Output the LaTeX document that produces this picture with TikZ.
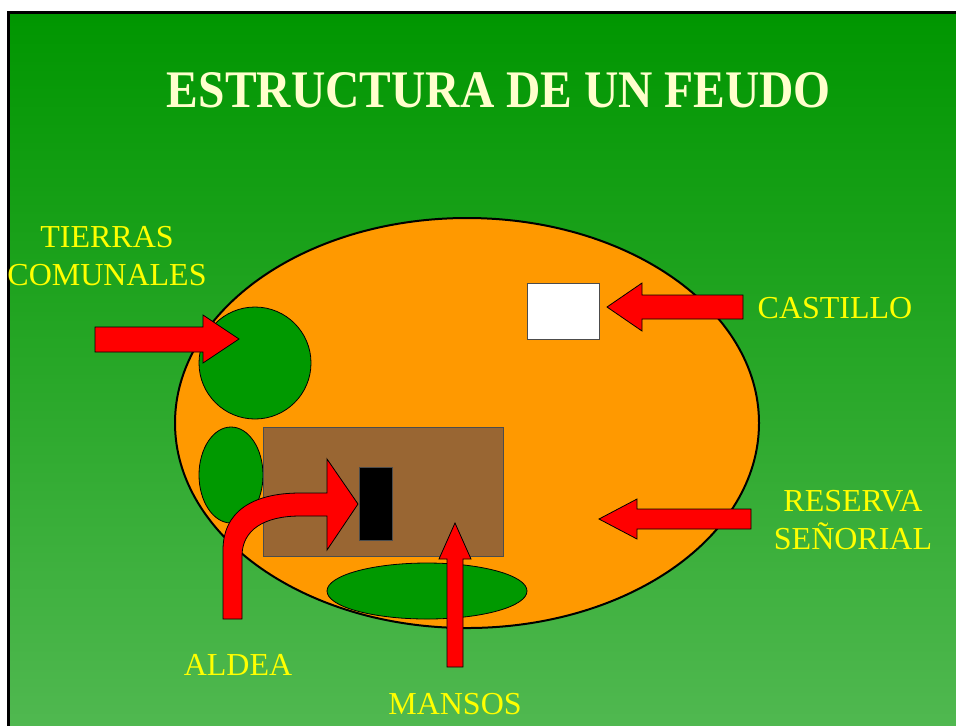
\documentclass[tikz,border=0pt]{standalone}
\usepackage{fontspec}
\setmainfont{Liberation Serif}
\usetikzlibrary{shapes.geometric}
\definecolor{fondoarriba}{RGB}{0,150,0}
\definecolor{fondoabajo}{RGB}{82,185,82}
\definecolor{naranja}{RGB}{255,153,0}
\definecolor{bosque}{RGB}{0,153,0}
\definecolor{marron}{RGB}{153,102,51}
\definecolor{amarillo}{RGB}{255,255,0}
\definecolor{crema}{RGB}{255,255,204}
\tikzset{
    %Define style for the fief and its parts
    feudo/.style={
           ellipse,
           draw=black, line width=1pt,
           fill=naranja,
           inner sep=0pt},
    bosque/.style={
           ellipse,
           draw=black, line width=0.4pt,
           fill=bosque,
           inner sep=0pt},
    parcela/.style={
           rectangle,
           draw=black!70, line width=0.4pt,
           inner sep=0pt},
    %Define style for labels
    etiqueta/.style={
           text=amarillo,
           align=center,
           inner sep=0pt,
           font=\fontsize{16}{19}\selectfont},
    titulo/.style={
           text=crema,
           inner sep=0pt,
           font=\fontsize{26.4}{30}\selectfont\bfseries},
    % Define arrow style
    flecha/.style={
           fill=red,
           draw=black,
           line width=0.4pt,
           line join=miter}
}
\begin{document}
\begin{tikzpicture}[x=0.5pt,y=-0.5pt]
\useasboundingbox (0,0) rectangle (956,725);
\fill[white] (0,0) rectangle (956,725);
\clip (0,0) rectangle (956,725);
\shade[top color=fondoarriba, bottom color=fondoabajo, draw=black, line width=1.5pt]
    (8.5,12.5) rectangle (975,745);

 %nodes
\node[titulo] (titulo) at (499,90) {\scalebox{0.9}[1]{ESTRUCTURA DE UN FEUDO}};
\node[feudo, minimum width=292pt, minimum height=205pt] (feudo) at (467,423) {};
\node[bosque, circle, minimum size=56pt] (comunal) at (255,363) {};
\node[bosque, minimum width=32pt, minimum height=48pt] (ejido) at (231,475) {};
\node[parcela, fill=marron, minimum width=120pt, minimum height=64.5pt] (reserva) at (383,491.5) {};
\node[parcela, fill=black, minimum width=16.5pt, minimum height=36.5pt] (aldea) at (375.5,503.5) {};
\node[bosque, minimum width=100pt, minimum height=28pt] (mansos) at (427,591) {};
\node[parcela, fill=white, minimum width=36pt, minimum height=28pt] (castillo) at (563,311) {};

\node[etiqueta] (ltierras) at (107,256) {TIERRAS\\COMUNALES};
\node[etiqueta] (lcastillo) at (835,308) {CASTILLO};
\node[etiqueta] (lreserva) at (853,520) {RESERVA\\SEÑORIAL};
\node[etiqueta] (laldea) at (238,665) {ALDEA};
\node[etiqueta] (lmansos) at (455,704) {MANSOS};

 %arrow tips
\coordinate (pcomunal) at (239,339);
\coordinate (pcastillo) at (607,307);
\coordinate (preserva) at (599,519);
\coordinate (paldea) at (358,504);
\coordinate (pmansos) at (455,523);

\draw[flecha] (pcomunal) -- ++(-36,-24) -- ++(0,12) -- ++(-108,0) -- ++(0,25)
    -- ++(108,0) -- ++(0,11) -- cycle;
\draw[flecha] (pcastillo) -- ++(35,-24) -- ++(0,12) -- ++(101,0) -- ++(0,24)
    -- ++(-101,0) -- ++(0,12) -- cycle;
\draw[flecha] (preserva) -- ++(38,-20) -- ++(0,10) -- ++(114,0) -- ++(0,20)
    -- ++(-114,0) -- ++(0,10) -- cycle;
\draw[flecha] (pmansos) -- ++(-16,36) -- ++(8,0) -- ++(0,108) -- ++(16,0)
    -- ++(0,-108) -- ++(8,0) -- cycle;
\draw[flecha] (paldea) -- (327,459) -- (327,493) -- (300,493)
    .. controls (252,493) and (223,512) .. (223,550) -- (223,619) -- (242,619)
    -- (242,556) .. controls (242,530) and (264,516) .. (300,516)
    -- (327,516) -- (327,550) -- cycle;

\end{tikzpicture}
\end{document}
